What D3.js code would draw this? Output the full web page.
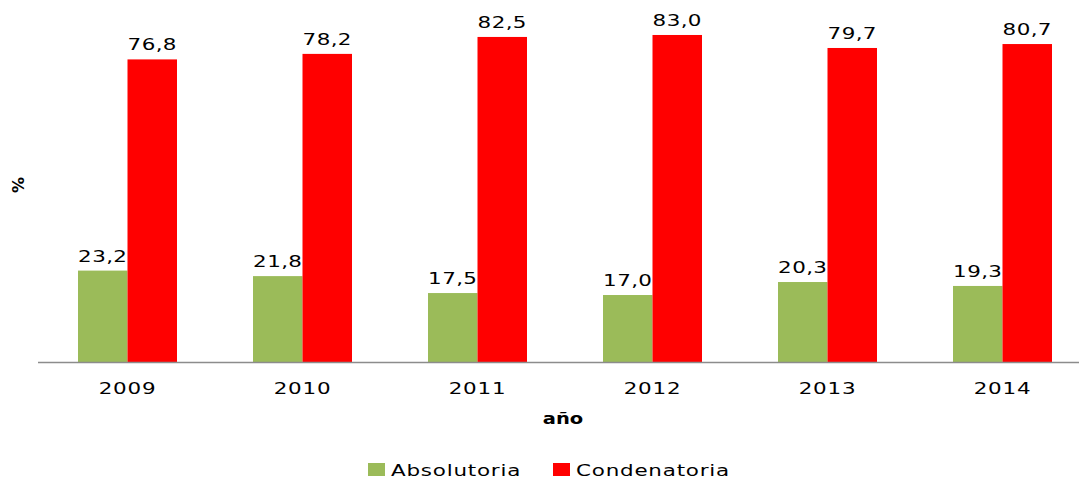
<!DOCTYPE html>
<html>
<head>
<meta charset="utf-8">
<script src="https://cdn.jsdelivr.net/npm/d3@7"></script>
<style>
  html, body { margin: 0; padding: 0; background: #fff; }
  svg { display: block; font-family: "DejaVu Sans", Verdana, sans-serif; }
</style>
</head>
<body>
<svg id="chart" width="1079" height="479"></svg>
<script>
// Sentencias por año (%)
const years = ["2009", "2010", "2011", "2012", "2013", "2014"];
const absolutoria = [23.2, 21.8, 17.5, 17.0, 20.3, 19.3];
const condenatoria = [76.8, 78.2, 82.5, 83.0, 79.7, 80.7];
const seriesNames = ["Absolutoria", "Condenatoria"];
const seriesColors = ["#9BBB59", "#FF0000"];

const stretch = 1.3; // wide lettering
const fmt = v => d3.format(".1f")(v).replace(".", ",");

const svg = d3.select("#chart");

const x0 = d3.scaleBand().domain(years).range([40, 1090]).padding(0);
const x1 = d3.scaleBand().domain(seriesNames).range([38, 137]).padding(0);
const y = d3.scaleLinear().domain([0, 90]).range([362, 7.4]);

const rows = years.map((yr, i) => ({
  year: yr,
  values: [
    { name: seriesNames[0], value: absolutoria[i], color: seriesColors[0] },
    { name: seriesNames[1], value: condenatoria[i], color: seriesColors[1] }
  ]
}));

const groups = svg.append("g").selectAll("g")
  .data(rows).join("g")
  .attr("transform", d => `translate(${x0(d.year)},0)`);

groups.selectAll("rect")
  .data(d => d.values).join("rect")
  .attr("x", d => x1(d.name))
  .attr("y", d => y(d.value))
  .attr("width", x1.bandwidth())
  .attr("height", d => y(0) - y(d.value))
  .attr("fill", d => d.color);

groups.selectAll("g.lbl")
  .data(d => d.values).join("g")
  .attr("class", "lbl")
  .attr("transform", d => `translate(${x1(d.name) + x1.bandwidth() / 2},${y(d.value) - 9}) scale(${stretch},1)`)
  .append("text")
  .attr("text-anchor", "middle")
  .attr("font-size", 16.5)
  .attr("letter-spacing", 0.3)
  .attr("fill", "#000")
  .text(d => fmt(d.value));

// x axis
const xAxis = svg.append("g")
  .attr("transform", `translate(0,${y(0)})`)
  .call(d3.axisBottom(x0).tickSize(0).tickPadding(0));
xAxis.select(".domain").attr("d", "M38,0.5H1079").attr("stroke", "#8c8c8c").attr("stroke-width", 1.5);
xAxis.selectAll(".tick text")
  .attr("y", 32).attr("dy", 0)
  .attr("font-size", 16.5)
  .attr("letter-spacing", 0.6)
  .attr("font-family", "DejaVu Sans, Verdana, sans-serif")
  .attr("fill", "#000")
  .attr("transform", `scale(${stretch},1)`);

// axis titles
svg.append("g")
  .attr("transform", `translate(563,424) scale(${stretch},1)`)
  .append("text")
  .attr("text-anchor", "middle")
  .attr("font-size", 15)
  .attr("font-weight", "bold")
  .text("año");

svg.append("g")
  .attr("transform", "translate(24,185) rotate(-90)")
  .append("text")
  .attr("text-anchor", "middle")
  .attr("font-size", 16)
  .attr("font-weight", "bold")
  .text("%");

// legend
const legendX = [368, 553];
const legend = svg.append("g").selectAll("g")
  .data(seriesNames).join("g")
  .attr("transform", (d, i) => `translate(${legendX[i]},463)`);
legend.append("rect")
  .attr("width", 17).attr("height", 13)
  .attr("fill", (d, i) => seriesColors[i]);
legend.append("g")
  .attr("transform", `translate(23,13) scale(${stretch},1)`)
  .append("text")
  .attr("font-size", 16.5)
  .attr("letter-spacing", 0.6)
  .attr("fill", "#000")
  .text(d => d);
</script>
</body>
</html>
